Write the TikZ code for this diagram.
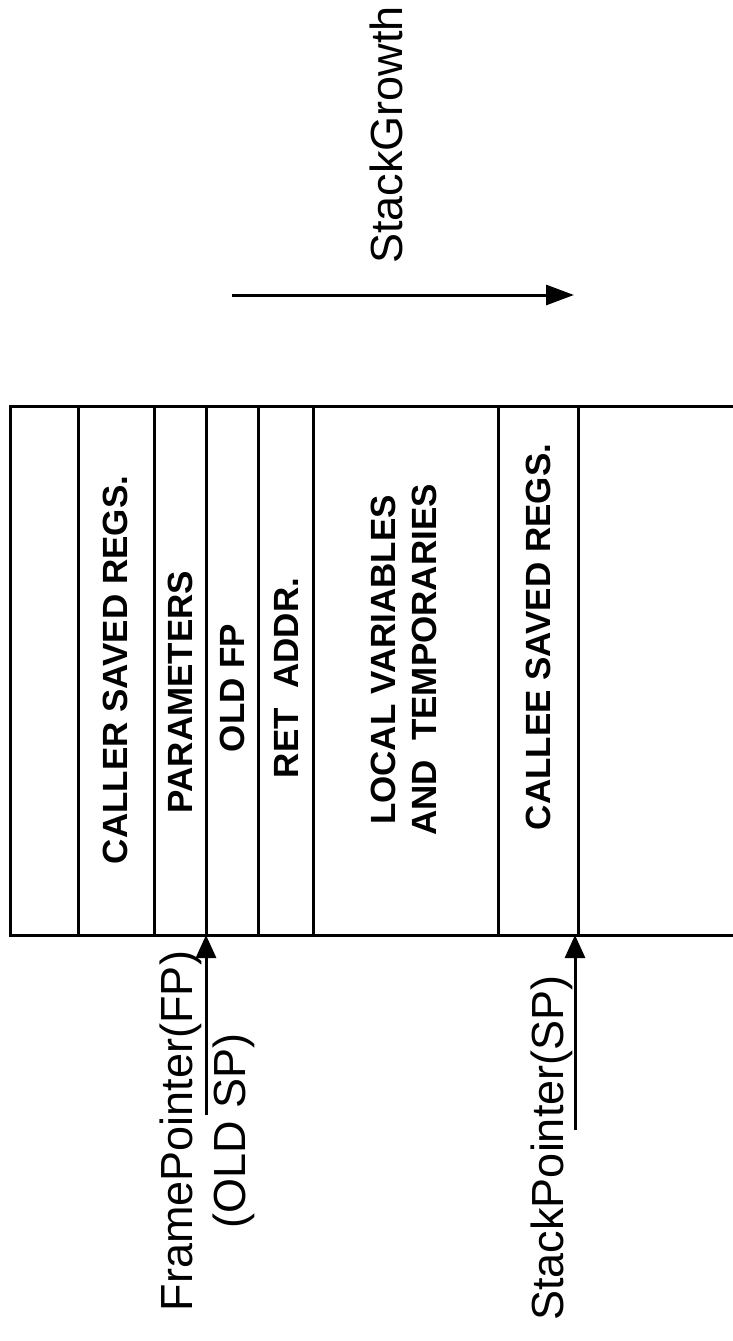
\documentclass[tikz,border=0pt]{standalone}
\usepackage{fontspec}
\setmainfont{Liberation Sans}
\usetikzlibrary{arrows.meta}
\begin{document}
\begin{tikzpicture}[x=1pt,y=-1pt,
    cell/.style={rotate=90, font=\bfseries\fontsize{35}{41}\selectfont, align=center, inner sep=0pt},
    pointer/.style={rotate=90, font=\fontsize{45}{53}\selectfont, align=center, inner sep=0pt},
    ptr/.style={line width=3pt, -{Triangle[length=23pt,width=20pt]}}]
  \useasboundingbox (0,0) rectangle (733,1341);
  % the frame
  \draw[line width=3pt] (733,406) -- (10,406) -- (10,935) -- (733,935);
  \foreach \x in {78,154,206,258,313,498,578} \draw[line width=3pt] (\x,406) -- (\x,935);
  \node[cell] (caller) at (115,670) {CALLER SAVED REGS.};
  \node[cell] (params) at (180,692) {PARAMETERS};
  \node[cell] (oldfp) at (232,688) {OLD FP};
  \node[cell] (ret) at (286,678) {RET\ \ ADDR.};
  \node[cell] (locals) at (404,660) {LOCAL VARIABLES\\AND\ \ TEMPORARIES};
  \node[cell] (callee) at (538,637) {CALLEE SAVED REGS.};
  % growth
  \node[pointer] (growth) at (386,135) {StackGrowth};
  \coordinate (gstart) at (232,295);
  \coordinate (gend) at (574,295);
  \draw[ptr, -{Triangle[length=28pt,width=20pt]}] (gstart) -- (gend);
  % pointers
  \node[pointer] (fp) at (207,1131) {FramePointer(FP)\\(OLD SP)};
  \node[pointer] (sp) at (552,1148) {StackPointer(SP)};
  \coordinate (fptail) at (206,1115);
  \coordinate (fphead) at (206,935);
  \coordinate (sptail) at (575,1130);
  \coordinate (sphead) at (575,935);
  \draw[ptr] (fptail) -- (fphead);
  \draw[ptr] (sptail) -- (sphead);
\end{tikzpicture}
\end{document}
